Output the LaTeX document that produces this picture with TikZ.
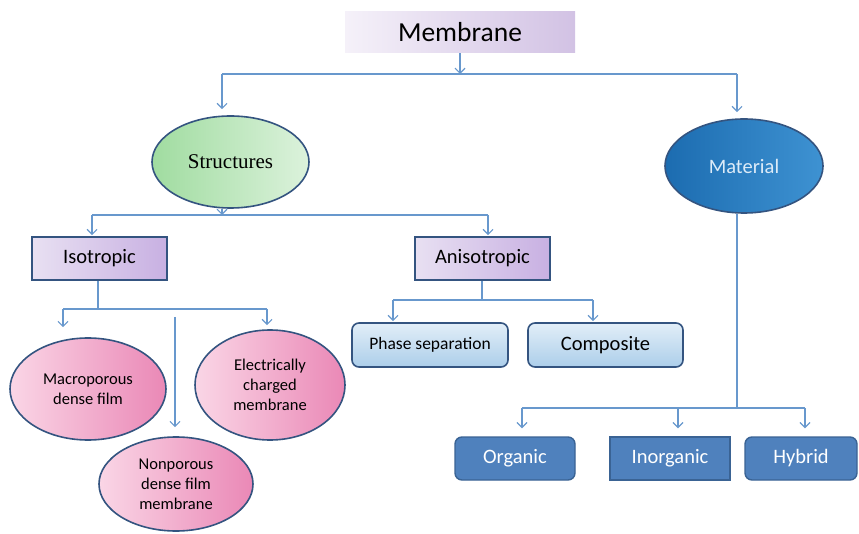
\documentclass[tikz,border=0pt]{standalone}
\usepackage{fontspec}
\setmainfont{Carlito}
\newfontfamily\serifface{Liberation Serif}
\usetikzlibrary{shapes.geometric,arrows.meta}
\definecolor{conn}{RGB}{104,152,205}
\definecolor{edge}{RGB}{52,84,128}
\definecolor{orgblue}{RGB}{79,129,189}
\definecolor{orgedge}{RGB}{58,99,148}
\tikzset{
  x=1pt, y=-1pt,
  line/.style={draw=conn, line width=1.2pt},
  arr/.style={line, -{Straight Barb[length=5pt,width=10pt]}},
  topbox/.style={rectangle, minimum width=230pt, minimum height=41pt, inner sep=0pt,
     left color={rgb,255:red,245;green,241;blue,249}, right color={rgb,255:red,210;green,194;blue,228},
     font=\fontsize{27.5}{32}\selectfont},
  lavbox/.style={rectangle, draw=edge, line width=1.6pt, minimum width=135pt, minimum height=43pt, inner sep=0pt,
     left color={rgb,255:red,232;green,224;blue,242}, right color={rgb,255:red,200;green,176;blue,226},
     font=\fontsize{20.5}{24}\selectfont},
  skybox/.style={rectangle, rounded corners=7pt, draw=edge, line width=1.6pt, minimum height=44pt, inner sep=0pt,
     top color={rgb,255:red,226;green,238;blue,248}, bottom color={rgb,255:red,172;green,206;blue,234}},
  darkbox/.style={rectangle, draw=orgedge, fill=orgblue, line width=1.4pt, minimum width=120pt, minimum height=43pt, inner sep=0pt,
     text=white, font=\fontsize{20.5}{24}\selectfont},
  pinkell/.style={ellipse, draw=edge, line width=1.6pt, inner sep=0pt, align=center,
     left color={rgb,255:red,250;green,214;blue,230}, right color={rgb,255:red,234;green,136;blue,182},
     font=\fontsize{16.5}{20}\selectfont},
}
\begin{document}
\begin{tikzpicture}
\useasboundingbox (0,0) rectangle (859,534);
% top
\node[topbox] (mem) at (460,32.5) {Membrane};
\node[ellipse, draw=edge, line width=1.6pt, minimum width=157pt, minimum height=92pt, inner sep=0pt,
  left color={rgb,255:red,160;green,220;blue,160}, right color={rgb,255:red,220;green,242;blue,220},
  font=\serifface\fontsize{21}{24}\selectfont] (str) at (230.5,162) {Structures};
\node[ellipse, draw=edge, line width=1.6pt, minimum width=158pt, minimum height=94pt, inner sep=0pt,
  left color={rgb,255:red,28;green,108;blue,176}, right color={rgb,255:red,62;green,146;blue,210},
  text={rgb,255:red,220;green,235;blue,248}, font=\fontsize{20.5}{24}\selectfont] (mat) at (744,166) {Material};
% second level
\node[lavbox] (iso) at (99.5,258.5) {Isotropic};
\node[lavbox] (ani) at (482.5,258.5) {Anisotropic};
\node[skybox, minimum width=156pt, font=\fontsize{17.5}{21}\selectfont] (pha) at (430,345) {Phase separation};
\node[skybox, minimum width=155pt, font=\fontsize{20.5}{24}\selectfont] (com) at (605.5,345) {Composite};
% pink ellipses
\node[pinkell, minimum width=156pt, minimum height=102pt] (mac) at (88,389) {Macroporous\\dense film};
\node[pinkell, minimum width=150pt, minimum height=110pt] (ele) at (270,385) {Electrically\\charged\\membrane};
\node[pinkell, minimum width=154pt, minimum height=94pt] (non) at (176,484) {Nonporous\\dense film\\membrane};
% material children
\node[darkbox, rounded corners=7pt] (org) at (515,458.5) {Organic};
\node[darkbox] (ino) at (670,458.5) {Inorganic};
\node[darkbox, rounded corners=7pt, minimum width=112pt] (hyb) at (801,458.5) {Hybrid};
% junction coordinates
\coordinate (j0) at (460,74);
\coordinate (jL) at (222,74);
\coordinate (jR) at (737,74);
\coordinate (s0) at (222,215);
\coordinate (sL) at (92,215);
\coordinate (sR) at (488,215);
\coordinate (i0) at (98,309);
\coordinate (iL) at (63,309);
\coordinate (iM) at (175,317);
\coordinate (iR) at (267,309);
\coordinate (a0) at (482,300);
\coordinate (aL) at (393,300);
\coordinate (aR) at (593,300);
\coordinate (m0) at (737,408);
\coordinate (mL) at (522,408);
\coordinate (mM) at (678,408);
\coordinate (mR) at (805,408);
% connectors
\draw[arr] (mem.south) -- (j0);
\draw[line] (jL) -- (jR);
\draw[arr, shorten >=6pt] (jL) -- (jL |- str.north);
\draw[arr, shorten >=6pt] (jR) -- (jR |- mat.north);
\draw[arr] (s0 |- str.south) -- (s0);
\draw[line] (sL) -- (sR);
\draw[arr, shorten >=1pt] (sL) -- (sL |- iso.north);
\draw[arr, shorten >=1pt] (sR) -- (sR |- ani.north);
\draw[line] (i0 |- iso.south) -- (i0);
\draw[line] (iL) -- (iR);
\draw[arr, shorten >=10pt] (iL) -- (iL |- mac.north);
\draw[arr, shorten >=4pt] (iR) -- (iR |- ele.north);
\draw[arr, shorten >=9pt] (iM) -- (iM |- non.north);
\draw[line] (a0 |- ani.south) -- (a0);
\draw[line] (aL) -- (aR);
\draw[arr, shorten >=1pt] (aL) -- (aL |- pha.north);
\draw[arr, shorten >=1pt] (aR) -- (aR |- com.north);
\draw[line] (m0 |- mat.south) -- (m0);
\draw[line] (mL) -- (mR);
\draw[arr, shorten >=8pt] (mL) -- (mL |- org.north);
\draw[arr, shorten >=8pt] (mM) -- (mM |- ino.north);
\draw[arr, shorten >=8pt] (mR) -- (mR |- hyb.north);
\end{tikzpicture}
\end{document}
